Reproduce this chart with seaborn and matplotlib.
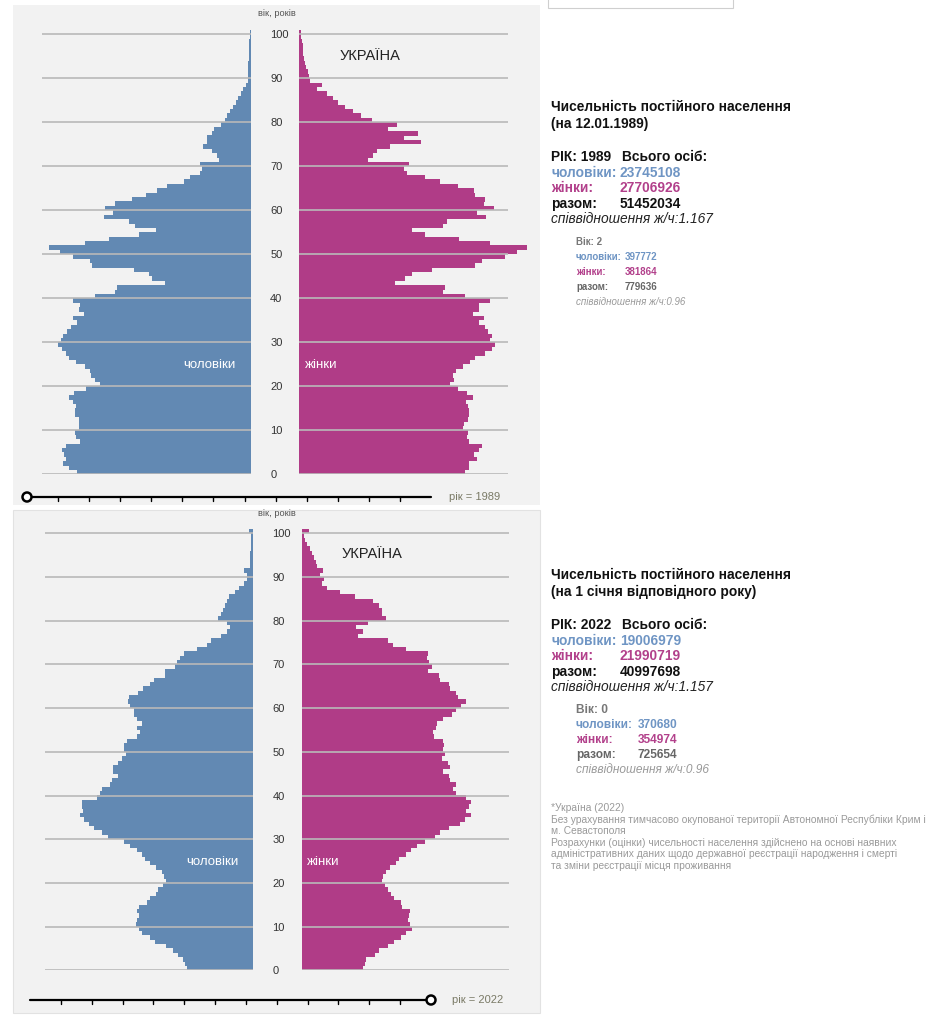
import numpy as np
import pandas as pd
import seaborn as sns
import matplotlib.pyplot as plt
from matplotlib.patches import Rectangle, Circle

sns.set_theme(style='white')
plt.rcParams['font.family'] = ['Liberation Sans', 'DejaVu Sans']

# ages 0..100, values in thousands of persons
ages = np.arange(0, 101)

male_1989 = [381, 397, 410, 404, 409, 414, 404, 374, 383, 385,
             375, 375, 377, 385, 385, 383, 390, 397, 388, 361,
             331, 341, 350, 352, 363, 383, 397, 404, 414, 423,
             416, 412, 402, 394, 380, 390, 365, 377, 374, 390,
             341, 297, 292, 188, 217, 222, 256, 348, 352, 390,
             418, 441, 363, 310, 245, 207, 253, 266, 321, 302,
             319, 297, 261, 229, 206, 183, 147, 134, 110, 107,
             110, 69, 74, 85, 105, 96, 96, 85, 80, 64,
             56, 51, 45, 38, 32, 27, 22, 16, 10, 7,
             7, 6, 5, 5, 4, 4, 3, 3, 3, 2, 2]

female_1989 = [363, 370, 372, 388, 381, 392, 399, 372, 366, 368,
               359, 361, 368, 372, 370, 368, 365, 380, 366, 348,
               329, 339, 336, 343, 358, 374, 385, 407, 421, 427,
               418, 421, 412, 407, 392, 403, 380, 392, 394, 416,
               363, 315, 319, 210, 231, 246, 290, 385, 399, 450,
               476, 498, 416, 350, 274, 246, 315, 323, 409, 388,
               425, 403, 407, 385, 381, 348, 308, 274, 235, 228,
               239, 151, 162, 169, 199, 266, 228, 259, 195, 213,
               158, 134, 118, 100, 85, 73, 60, 39, 49, 23,
               21, 18, 15, 13, 11, 9, 8, 7, 5, 4, 3]

male_2022 = [143, 148, 152, 163, 175, 190, 214, 225, 243, 250,
             256, 253, 250, 253, 248, 232, 226, 212, 207, 197,
             190, 194, 199, 212, 225, 236, 243, 254, 269, 283,
             316, 331, 347, 358, 369, 378, 371, 374, 374, 342,
             334, 331, 312, 309, 296, 307, 305, 296, 287, 277,
             282, 281, 276, 253, 247, 253, 243, 253, 260, 261,
             269, 274, 270, 252, 241, 225, 216, 193, 192, 170,
             166, 159, 150, 123, 101, 92, 70, 57, 50, 57,
             75, 70, 66, 61, 57, 52, 39, 29, 20, 13,
             13, 18, 7, 7, 6, 5, 4, 4, 4, 4, 9]

female_2022 = [134, 139, 142, 161, 170, 190, 202, 219, 230, 241,
               237, 234, 236, 237, 221, 217, 202, 197, 190, 183,
               177, 179, 185, 193, 207, 214, 230, 239, 252, 270,
               292, 303, 323, 347, 358, 372, 360, 367, 372, 361,
               338, 332, 338, 326, 323, 310, 325, 321, 309, 314,
               310, 312, 310, 290, 288, 294, 297, 310, 329, 338,
               350, 360, 343, 338, 326, 323, 304, 301, 277, 287,
               280, 274, 277, 228, 201, 190, 124, 134, 119, 146,
               185, 177, 177, 170, 157, 117, 85, 55, 44, 49,
               40, 47, 34, 31, 28, 23, 18, 12, 8, 5, 17]

age_ticks = list(range(0, 101, 10))

MALE_C = '#6289b3'
FEMALE_C = '#b03c87'
MALE_TXT = '#6f95c4'
FEMALE_TXT = '#b2408b'
BG = '#f2f2f2'
W, H = 943, 1024

fig = plt.figure(figsize=(W / 100, H / 100), dpi=100)
fig.patch.set_facecolor('white')

# background canvas in pixel units
canvas = fig.add_axes([0, 0, 1, 1], zorder=0)
canvas.set_xlim(0, W)
canvas.set_ylim(H, 0)
canvas.axis('off')


def px_axes(x0, x1, y_top, y_bot):
    return fig.add_axes([x0 / W, 1 - y_bot / H, (x1 - x0) / W, (y_bot - y_top) / H], zorder=2)


def pyramid(male, female, mx0, mx1, fx0, fx1, y0, ppy, xmax, ytop_label):
    y_top = y0 - 102 * ppy
    ax_m = px_axes(mx0, mx1, y_top, y0)
    ax_f = px_axes(fx0, fx1, y_top, y0)
    df = pd.DataFrame({'age': ages + 0.5, 'male': male, 'female': female})
    sns.barplot(data=df, x='male', y='age', orient='y', native_scale=True, width=1,
                color=MALE_C, saturation=1, linewidth=0, errorbar=None, ax=ax_m)
    sns.barplot(data=df, x='female', y='age', orient='y', native_scale=True, width=1,
                color=FEMALE_C, saturation=1, linewidth=0, errorbar=None, ax=ax_f)
    for p in ax_f.patches:
        p.set_clip_on(False)
    ax_m.set_xlim(xmax, 0)
    ax_f.set_xlim(0, xmax)
    for ax in (ax_m, ax_f):
        ax.set_ylim(0, 102)
        ax.set_facecolor('none')
        ax.set_yticks(age_ticks)
        ax.set_xticks([])
        ax.set_xlabel('')
        ax.set_ylabel('')
        ax.grid(axis='y', color='#b9b9b9', lw=1.2)
        ax.set_axisbelow(False)
        for s in ax.spines.values():
            s.set_visible(False)
    ax_m.tick_params(axis='y', length=0, labelleft=False)
    ax_f.tick_params(axis='y', length=0, pad=21, labelsize=8, labelcolor='#333333')
    ax_f.set_yticklabels([str(a) for a in age_ticks])
    for t in ax_f.get_yticklabels():
        t.set_horizontalalignment('left')
    canvas.text(277, ytop_label, 'вік, років', ha='center', va='center', fontsize=6.7, color='#555555')
    return ax_m, ax_f


def slider(y, x0, x1, handle_x, label_x, year):
    canvas.plot([x0, x1], [y, y], color='black', lw=1.6, zorder=3)
    for tx in np.linspace(x0, x1, 14)[1:-1]:
        canvas.plot([tx, tx], [y, y + 3.5], color='black', lw=1.0, zorder=3)
    canvas.add_patch(Circle((handle_x, y), 4.5, facecolor='white', edgecolor='black', lw=1.8, zorder=4))
    canvas.text(label_x, y, f'рік = {year}', ha='left', va='center', fontsize=8, color='#7a7a66')


# panel backgrounds
canvas.add_patch(Rectangle((13, 5), 527, 500, facecolor=BG, edgecolor='none'))
canvas.add_patch(Rectangle((13, 510), 527, 503, facecolor=BG, edgecolor='#e2e2e2', lw=0.8))
canvas.add_patch(Rectangle((548, -2), 185, 10, facecolor='white', edgecolor='#cfcfcf', lw=0.8))

# top pyramid (1989)
am, af = pyramid(male_1989, female_1989, 42, 250.7, 299.3, 508.3, 474.3, 4.40, 457, 13)
am.text(209, 365, 'чоловіки', transform=canvas.transData, ha='center', va='center', color='white', fontsize=9.5)
af.text(305, 365, 'жінки', transform=canvas.transData, ha='left', va='center', color='white', fontsize=9.5)
af.text(370, 56, 'УКРАЇНА', transform=canvas.transData, ha='center', va='center', color='#222222', fontsize=10.5)
slider(497, 27, 431, 27, 449, 1989)

# bottom pyramid (2022)
am2, af2 = pyramid(male_2022, female_2022, 45, 252.7, 301.7, 509, 970.3, 4.37, 455, 513)
am2.text(212, 862, 'чоловіки', transform=canvas.transData, ha='center', va='center', color='white', fontsize=9.5)
af2.text(307, 862, 'жінки', transform=canvas.transData, ha='left', va='center', color='white', fontsize=9.5)
af2.text(372, 554, 'УКРАЇНА', transform=canvas.transData, ha='center', va='center', color='#222222', fontsize=10.5)
slider(1000, 30, 431, 431, 452, 2022)

FS = 9.9


def info_block(y, title2, year, m_tot, f_tot, t_tot, ratio, age, m_age, f_age, t_age, ratio_age,
               small_fs, xin):
    x0, xn = 551, 620
    canvas.text(x0, y, 'Чисельність постійного населення', fontsize=FS, fontweight='bold', va='center', color='#111111')
    canvas.text(x0, y + 17, title2, fontsize=FS, fontweight='bold', va='center', color='#111111')
    canvas.text(x0, y + 50, f'РІК: {year}', fontsize=FS, fontweight='bold', va='center', color='#111111')
    canvas.text(622, y + 50, 'Всього осіб:', fontsize=FS, fontweight='bold', va='center', color='#111111')
    rows = [('чоловіки:', m_tot, MALE_TXT), ('жінки:', f_tot, FEMALE_TXT), ('разом:', t_tot, '#111111')]
    for i, (lab, val, c) in enumerate(rows):
        yy = y + 66 + i * 15.5
        canvas.text(x0, yy, lab, fontsize=FS, fontweight='bold', va='center', color=c)
        canvas.text(xn, yy, val, fontsize=FS, fontweight='bold', va='center', color=c)
    canvas.text(x0, y + 112, f'співвідношення ж/ч:{ratio}', fontsize=FS, style='italic', va='center', color='#222222')
    xi = 576
    canvas.text(xi, y + 135, f'Вік: {age}', fontsize=small_fs, fontweight='bold', va='center', color='#777777')
    rows2 = [('чоловіки:', m_age, MALE_TXT), ('жінки:', f_age, FEMALE_TXT), ('разом:', t_age, '#666666')]
    for i, (lab, val, c) in enumerate(rows2):
        yy = y + 150 + i * 15.2
        canvas.text(xi, yy, lab, fontsize=small_fs, fontweight='bold', va='center', color=c)
        canvas.text(xin, yy, val, fontsize=small_fs, fontweight='bold', va='center', color=c)
    canvas.text(xi, y + 195, f'співвідношення ж/ч:{ratio_age}', fontsize=small_fs, style='italic', va='center', color='#999999')


info_block(107, '(на 12.01.1989)', 1989, '23745108', '27706926', '51452034', '1.167',
           2, '397772', '381864', '779636', '0.96', 7.0, 625)
info_block(575, '(на 1 січня відповідного року)', 2022, '19006979', '21990719', '40997698', '1.157',
           0, '370680', '354974', '725654', '0.96', 8.6, 638)

notes = ['*Україна (2022)',
         'Без урахування тимчасово окупованої території Автономної Республіки Крим і',
         'м. Севастополя',
         'Розрахунки (оцінки) чисельності населення здійснено на основі наявних',
         'адміністративних даних щодо державної реєстрації народження і смерті',
         'та зміни реєстрації місця проживання']
for i, line in enumerate(notes):
    canvas.text(551, 808 + i * 11.6, line, fontsize=7.35, va='center', color='#9a9a9a')

fig.savefig('out.png', dpi=100)
